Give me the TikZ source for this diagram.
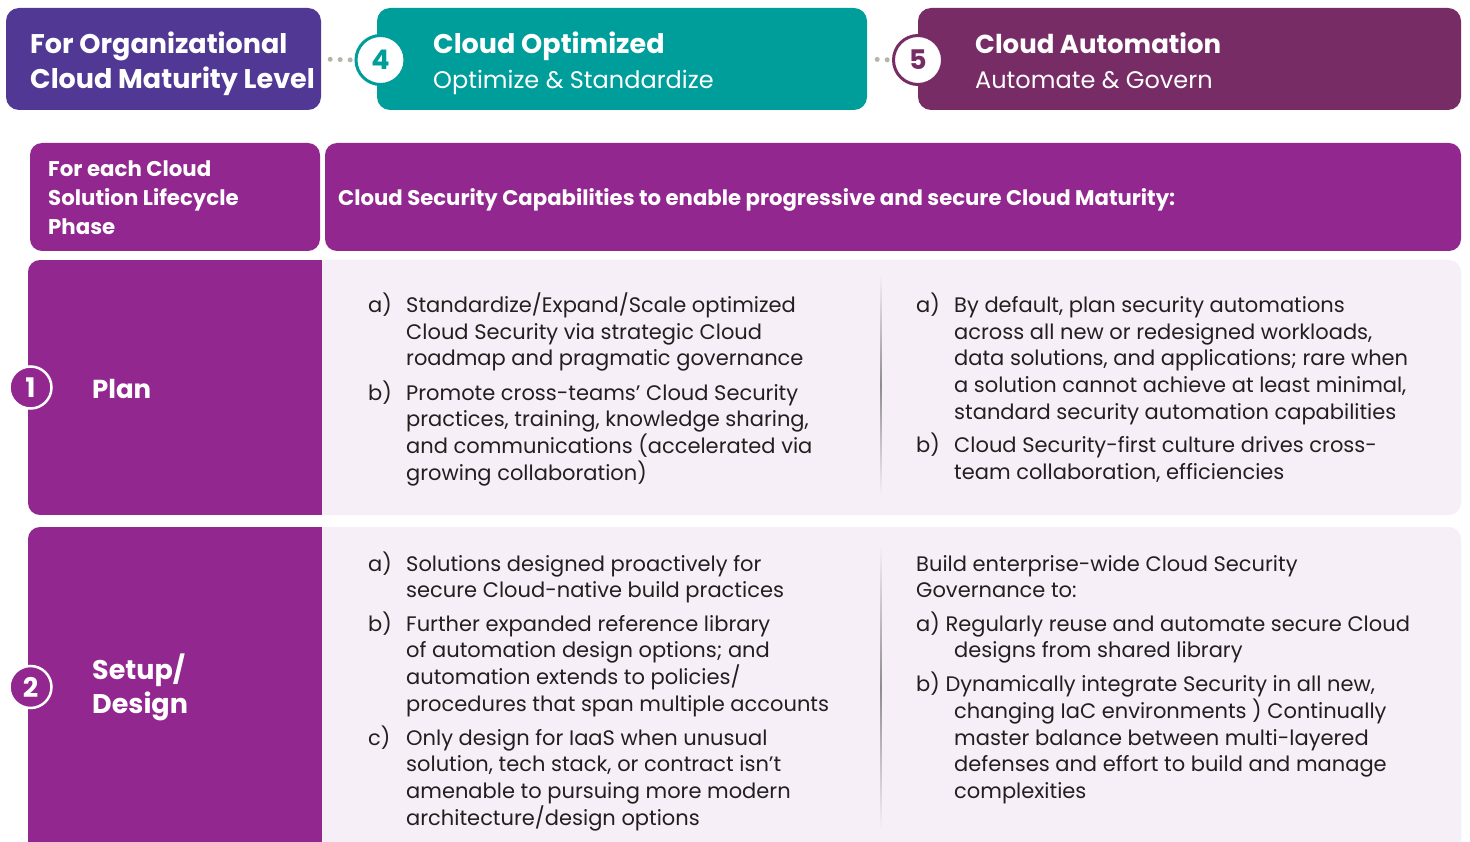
\documentclass[tikz,border=0pt]{standalone}
\usepackage{fontspec}
\setmainfont{Poppins}
\usetikzlibrary{backgrounds}
\definecolor{orgpurple}{HTML}{513894}
\definecolor{myteal}{HTML}{009E9B}
\definecolor{plum}{HTML}{772C66}
\definecolor{hdrpurple}{HTML}{92278F}
\definecolor{rowpink}{HTML}{F7EFF7}
\definecolor{dotgray}{HTML}{B4B5A7}
\definecolor{txtc}{HTML}{231F20}
\newcommand{\bodyfont}{\fontsize{21}{26.7}\selectfont}
\begin{document}
\begin{tikzpicture}[x=1pt,y=-1pt,
  topbox/.style={rounded corners=13pt, inner sep=0pt},
  numcircle/.style={circle, draw, line width=3pt, fill=white, minimum size=49pt, inner sep=0pt, font=\fontsize{27}{30}\selectfont\bfseries},
  phasecircle/.style={circle, draw=white, line width=2.5pt, fill=hdrpurple, text=white, minimum size=42pt, inner sep=0pt, font=\fontsize{27}{30}\selectfont\bfseries},
  dotline/.style={draw=dotgray, line width=5pt, line cap=round, dash pattern=on 0pt off 10pt},
  wtxt/.style={text=white, inner sep=0pt, anchor=base west, align=left},
  body/.style={text=txtc, inner sep=0pt, anchor=base west, align=left, font=\bodyfont},
]
\clip (0,0) rectangle (1470,842);
\begin{scope}[on background layer]
\fill[white] (0,0) rectangle (1470,842);
\end{scope}

% ---- top maturity boxes
\node[topbox, fill=orgpurple, minimum width=315pt, minimum height=102pt] (org) at (163.5,59) {};
\node[topbox, fill=myteal, minimum width=490pt, minimum height=102pt] (opt) at (622,59) {};
\node[topbox, fill=plum, minimum width=543pt, minimum height=102pt] (aut) at (1189.5,59) {};
\node[numcircle, draw=myteal, text=myteal] (c4) at (380.5,60) {4};
\node[numcircle, draw=plum, text=plum] (c5) at (918,60) {5};
\begin{scope}[on background layer]
\draw[dotline, shorten <=9pt] (org.east) -- (c4.west);
\draw[dotline, shorten <=10pt] (opt.east) -- (c5.west);
\end{scope}

% last-line baselines are given (base anchor = last line)
\node[wtxt, font=\fontsize{27}{35}\selectfont\bfseries] (orgt) at (30,88.3) {For Organizational\\Cloud Maturity Level};
\node[wtxt, font=\fontsize{27}{35}\selectfont\bfseries] (optt) at (433,53.5) {Cloud Optimized};
\node[wtxt, font=\fontsize{24}{30}\selectfont] (opts) at (433,88.5) {Optimize \& Standardize};
\node[wtxt, font=\fontsize{26}{35}\selectfont\bfseries] (autt) at (975,53.5) {Cloud Automation};
\node[wtxt, font=\fontsize{24}{30}\selectfont] (auts) at (975,88.5) {Automate \& Govern};

% ---- header row
\node[topbox, rounded corners=12pt, fill=hdrpurple, minimum width=290pt, minimum height=108pt] (h1) at (175,197) {};
\node[topbox, rounded corners=12pt, fill=hdrpurple, minimum width=1136pt, minimum height=108pt] (h2) at (893,197) {};
\node[wtxt, font=\fontsize{21.3}{29}\selectfont\bfseries] (h1t) at (48,235) {For each Cloud\\Solution Lifecycle\\Phase};
\node[wtxt, font=\fontsize{21.2}{29}\selectfont\bfseries] (h2t) at (338,205.5) {Cloud Security Capabilities to enable progressive and secure Cloud Maturity:};

% ---- row 1
\fill[rowpink, rounded corners=12pt] (28,260) rectangle (1461,515);
\begin{scope}
\clip[rounded corners=12pt] (28,260) rectangle (1461,515);
\fill[hdrpurple] (28,260) rectangle (321.5,515);
\end{scope}
\shade[top color=rowpink, bottom color=rowpink, middle color=black!45] (880.5,275) rectangle (881.5,495);
\node[phasecircle] (p1) at (30.5,387.5) {1};
\node[wtxt, font=\fontsize{26}{34}\selectfont\bfseries] (plan) at (92,398.3) {Plan};

% ---- row 2
\fill[rowpink, rounded corners=12pt] (28,527) rectangle (1461,880);
\begin{scope}
\clip[rounded corners=12pt] (28,527) rectangle (1461,880);
\fill[hdrpurple] (28,527) rectangle (321.5,880);
\end{scope}
\shade[top color=rowpink, bottom color=rowpink, middle color=black!45] (880.5,545) rectangle (881.5,830);
\node[phasecircle] (p2) at (30.5,687) {2};
\node[wtxt, font=\fontsize{27}{34}\selectfont\bfseries] (setup) at (92,713.3) {Setup/\\Design};

% ---- row 1 texts
\node[body] (r1la) at (368,312.3) {a)};
\node[body] (r1lat) at (406,365.7) {Standardize/Expand/Scale optimized\\Cloud Security via strategic Cloud\\roadmap and pragmatic governance};
\node[body] (r1lb) at (368,400) {b)};
\node[body] (r1lbt) at (406,480.1) {Promote cross-teams’ Cloud Security\\practices, training, knowledge sharing,\\and communications (accelerated via\\growing collaboration)};
\node[body] (r1ra) at (916,312.3) {a)};
\node[body] (r1rat) at (954,419.1) {By default, plan security automations\\across all new or redesigned workloads,\\data solutions, and applications; rare when\\a solution cannot achieve at least minimal,\\standard security automation capabilities};
\node[body] (r1rb) at (916,452.5) {b)};
\node[body] (r1rbt) at (954,479.2) {Cloud Security-first culture drives cross-\\team collaboration, efficiencies};

% ---- row 2 texts
\node[body] (r2la) at (368,571) {a)};
\node[body] (r2lat) at (406,597.7) {Solutions designed proactively for\\secure Cloud-native build practices};
\node[body] (r2lb) at (368,631) {b)};
\node[body] (r2lbt) at (406,711.1) {Further expanded reference library\\of automation design options; and\\automation extends to policies/\\procedures that span multiple accounts};
\node[body] (r2lc) at (368,745) {c)};
\node[body] (r2lct) at (406,825.1) {Only design for IaaS when unusual\\solution, tech stack, or contract isn’t\\amenable to pursuing more modern\\architecture/design options};
\node[body] (r2r0) at (916,597.7) {Build enterprise-wide Cloud Security\\Governance to:};
\node[body] (r2ra) at (916,657.7) {a) Regularly reuse and automate secure Cloud\\\hspace*{38pt}designs from shared library};
\node[body] (r2rb) at (916,798.5) {b) Dynamically integrate Security in all new,\\\hspace*{38pt}changing IaC environments ) Continually\\\hspace*{38pt}master balance between multi-layered\\\hspace*{38pt}defenses and effort to build and manage\\\hspace*{38pt}complexities};
\end{tikzpicture}
\end{document}
